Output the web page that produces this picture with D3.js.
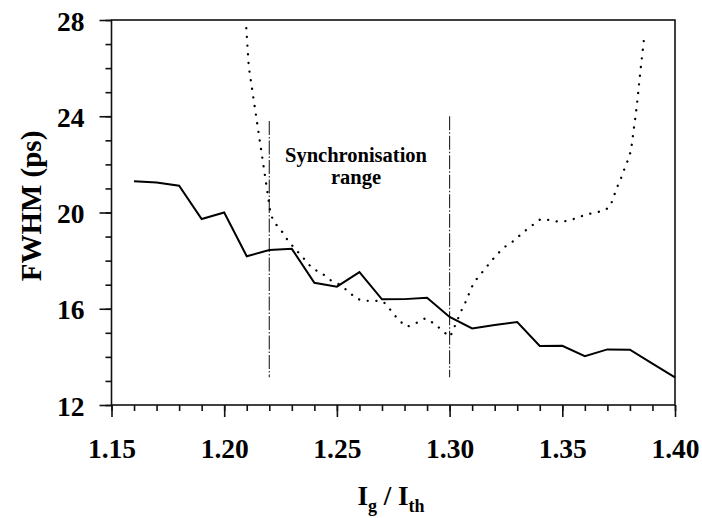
<!DOCTYPE html>
<html>
<head>
<meta charset="utf-8">
<script src="https://cdn.jsdelivr.net/npm/d3@7"></script>
<style>
  html, body { margin: 0; padding: 0; background: #fff; }
  svg { display: block; }
  text { font-family: "Liberation Serif", "Times New Roman", serif; font-weight: bold; fill: #000; }
</style>
</head>
<body>
<svg id="chart" width="702" height="518"></svg>
<script>
// ---- data ----
const solidX = [1.16, 1.17, 1.18, 1.19, 1.20, 1.21, 1.22, 1.23, 1.24, 1.25, 1.26, 1.27, 1.28,
                1.29, 1.30, 1.31, 1.32, 1.33, 1.34, 1.35, 1.36, 1.37, 1.38, 1.39, 1.40];
const solidY = [21.3, 21.25, 21.11, 19.73, 20.0, 18.18, 18.44, 18.49, 17.08, 16.92, 17.52, 16.39, 16.4,
                16.46, 15.66, 15.18, 15.32, 15.45, 14.45, 14.46, 14.03, 14.31, 14.3, 13.72, 13.15];

const dotX = [1.2098, 1.2109, 1.2131, 1.2153, 1.2175, 1.2197, 1.2205, 1.222, 1.2257, 1.2286, 1.2353,
              1.239, 1.2434, 1.2471, 1.2515, 1.2552, 1.2589, 1.2633, 1.267, 1.2707, 1.2744, 1.2773,
              1.2811, 1.2855, 1.2892, 1.2936, 1.2973, 1.3003, 1.3025, 1.3057, 1.3077, 1.3091, 1.311,
              1.3143, 1.3177, 1.3207, 1.3246, 1.3286, 1.3324, 1.3364, 1.3404, 1.3443, 1.3483, 1.3523,
              1.3561, 1.3601, 1.3641, 1.3682, 1.3712, 1.3727, 1.3741, 1.3759, 1.3774, 1.379, 1.3805,
              1.3815, 1.3826, 1.3835, 1.3843, 1.3852, 1.3861, 1.3864];
const dotY = [27.66, 26.06, 24.67, 23.29, 21.9, 20.52, 19.97, 19.62, 19.2, 18.79, 18.09,
              17.68, 17.47, 17.19, 16.99, 16.71, 16.4, 16.33, 16.33, 16.29, 15.88, 15.53,
              15.25, 15.42, 15.6, 15.36, 15.04, 14.84, 15.32, 16.02, 16.39, 16.75, 17.12,
              17.5, 17.89, 18.23, 18.58, 18.83, 19.16, 19.45, 19.73, 19.69, 19.62, 19.65,
              19.76, 19.9, 19.99, 20.07, 20.24, 20.63, 21.0, 21.38, 21.77, 22.15, 22.57,
              23.32, 24.08, 24.81, 25.58, 26.34, 27.09, 27.45];

const markerX = [1.22, 1.30];
const markerTop = [23.8, 24.0];
const markerBottom = [13.15, 13.15];

const xTickLabels = ["1.15", "1.20", "1.25", "1.30", "1.35", "1.40"];
const yTickLabels = ["12", "16", "20", "24", "28"];
const annotationLines = ["Synchronisation", "range"];

// ---- layout ----
const svg = d3.select("#chart");
const x = d3.scaleLinear().domain([1.15, 1.40]).range([111.5, 675]);
const y = d3.scaleLinear().domain([12, 28]).range([405, 20]);

const axisColor = "#111";

// minor ticks
const xMinor = d3.range(0, 26).map(i => 1.15 + i * 0.01);
const yMinor = d3.range(12, 29, 1);

const gx = svg.append("g").attr("transform", `translate(0,${y(12)})`);
gx.call(d3.axisBottom(x).tickValues(xMinor).tickSize(6).tickFormat(""));
gx.append("g").call(d3.axisBottom(x).tickValues(xTickLabels.map(Number)).tickSize(12).tickPadding(30)
  .tickFormat((d, i) => xTickLabels[i]));
gx.selectAll("path.domain").remove();
gx.selectAll("line").attr("stroke", axisColor).attr("stroke-width", 1.6);
gx.selectAll("text").attr("font-size", 27.5).attr("font-family", "Liberation Serif").attr("font-weight", "bold")
  .attr("fill", "#000").attr("dy", "0").attr("y", 53);

const gy = svg.append("g").attr("transform", `translate(${x(1.15)},0)`);
gy.call(d3.axisLeft(y).tickValues(yMinor).tickSize(6).tickFormat(""));
gy.append("g").call(d3.axisLeft(y).tickValues(yTickLabels.map(Number)).tickSize(12).tickPadding(16)
  .tickFormat((d, i) => yTickLabels[i]));
gy.selectAll("path.domain").remove();
gy.selectAll("line").attr("stroke", axisColor).attr("stroke-width", 1.6);
gy.selectAll("text").attr("font-size", 27.5).attr("font-family", "Liberation Serif").attr("font-weight", "bold")
  .attr("fill", "#000").attr("dy", "0.37em").attr("x", -27);

// frame
svg.append("rect")
  .attr("x", x(1.15)).attr("y", y(28))
  .attr("width", x(1.40) - x(1.15)).attr("height", y(12) - y(28))
  .attr("fill", "none").attr("stroke", axisColor).attr("stroke-width", 1.6);

// vertical markers
svg.append("g").selectAll("line").data(markerX).join("line")
  .attr("x1", d => x(d)).attr("x2", d => x(d))
  .attr("y1", (d, i) => y(markerTop[i])).attr("y2", (d, i) => y(markerBottom[i]))
  .attr("stroke", "#222").attr("stroke-width", 1.1)
  .attr("stroke-dasharray", "14,2,1.5,2");

// dotted curve
svg.append("path")
  .datum(dotX.map((d, i) => [d, dotY[i]]))
  .attr("fill", "none").attr("stroke", "#000").attr("stroke-width", 2.3)
  .attr("stroke-linecap", "round").attr("stroke-dasharray", "0.1,8.6")
  .attr("d", d3.line().x(d => x(d[0])).y(d => y(d[1])));

// solid curve
svg.append("path")
  .datum(solidX.map((d, i) => [d, solidY[i]]))
  .attr("fill", "none").attr("stroke", "#000").attr("stroke-width", 2)
  .attr("stroke-linejoin", "miter")
  .attr("d", d3.line().x(d => x(d[0])).y(d => y(d[1])));

// annotation
svg.append("g").selectAll("text").data(annotationLines).join("text")
  .attr("x", 356).attr("y", (d, i) => 162 + i * 22)
  .attr("text-anchor", "middle").attr("font-size", 20.5)
  .text(d => d);

// y-axis title
svg.append("text")
  .attr("transform", "translate(41,206) rotate(-90)")
  .attr("text-anchor", "middle").attr("font-size", 29)
  .text("FWHM (ps)");

// x-axis title
const xt = svg.append("text").attr("x", 391).attr("y", 505).attr("text-anchor", "middle").attr("font-size", 27);
xt.append("tspan").text("I");
xt.append("tspan").attr("font-size", 18).attr("dy", 7).text("g");
xt.append("tspan").attr("dy", -7).text(" / I");
xt.append("tspan").attr("font-size", 18).attr("dy", 7).text("th");
</script>
</body>
</html>
